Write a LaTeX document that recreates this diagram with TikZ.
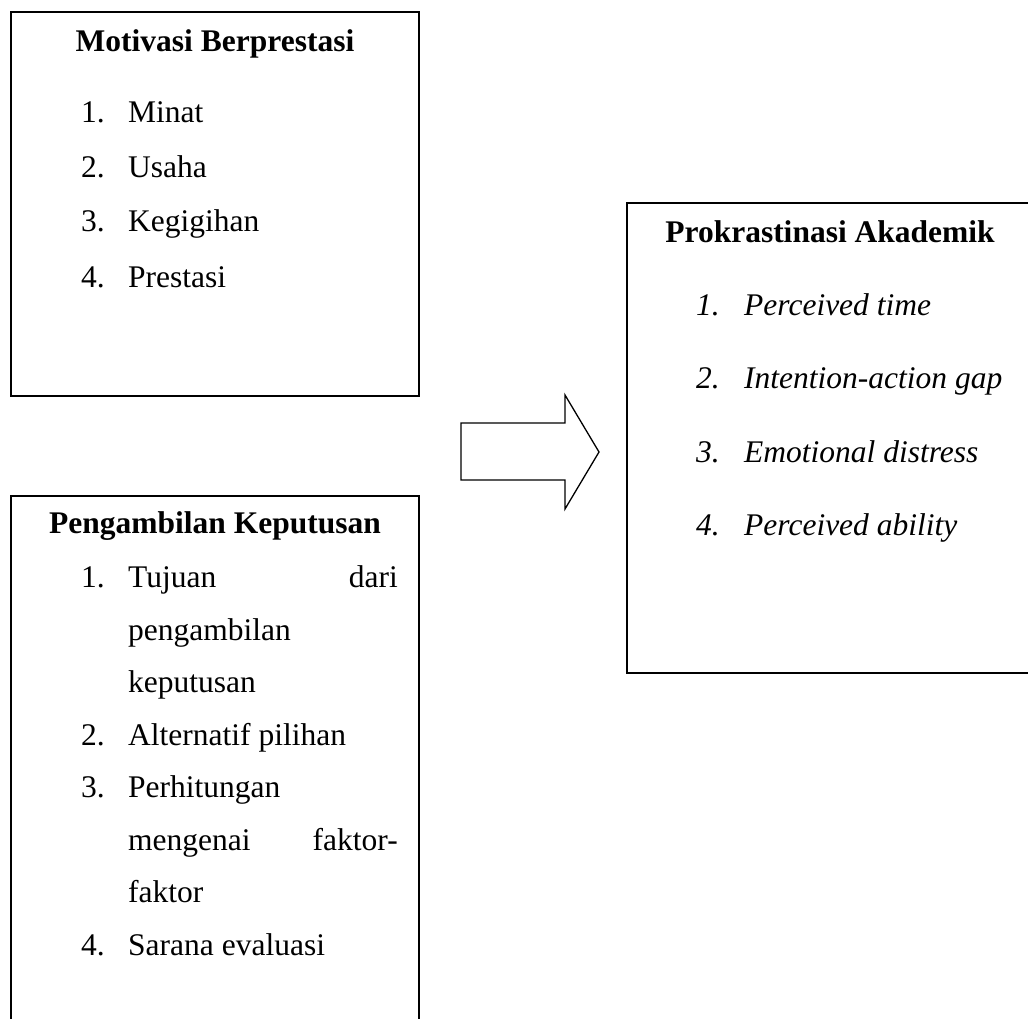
\documentclass[tikz,border=0pt]{standalone}
\usepackage{fontspec}
\setmainfont{Liberation Serif}
\tikzset{
  boxline/.style={line width=1.6pt, black},
  txt/.style={anchor=base west, inner sep=0pt, font=\fontsize{31.5}{38}\selectfont},
  ttl/.style={anchor=base, inner sep=0pt, font=\fontsize{31.5}{38}\selectfont\bfseries},
  itx/.style={anchor=base west, inner sep=0pt, font=\fontsize{31.5}{38}\selectfont\itshape},
  txr/.style={anchor=base east, inner sep=0pt, font=\fontsize{31.5}{38}\selectfont},
}
\begin{document}
\begin{tikzpicture}[x=1pt,y=-1pt]
\useasboundingbox (0,0) rectangle (1028,1019);
% box 1
\draw[boxline] (11,12) rectangle (419,396);
\node[ttl] (t1) at (215,52) {Motivasi Berprestasi};
\node[txt] (n11) at (81,123) {1.};
\node[txt] (i11) at (128,123) {Minat};
\node[txt] (n12) at (81,178) {2.};
\node[txt] (i12) at (128,178) {Usaha};
\node[txt] (n13) at (81,232) {3.};
\node[txt] (i13) at (128,232) {Kegigihan};
\node[txt] (n14) at (81,287) {4.};
\node[txt] (i14) at (128,287) {Prestasi};
% box 2 (bottom edge outside picture)
\draw[boxline] (11,1025) -- (11,496) -- (419,496) -- (419,1025);
\node[ttl] (t2) at (215,533) {Pengambilan Keputusan};
\node[txt] (n21) at (81,587) {1.};
\node[txt] (i21a) at (128,587) {Tujuan};
\node[txr] (i21b) at (398,587) {dari};
\node[txt] (i21c) at (128,640) {pengambilan};
\node[txt] (i21d) at (128,692) {keputusan};
\node[txt] (n22) at (81,745) {2.};
\node[txt] (i22) at (128,745) {Alternatif pilihan};
\node[txt] (n23) at (81,797) {3.};
\node[txt] (i23a) at (128,797) {Perhitungan};
\node[txt] (i23b) at (128,850) {mengenai};
\node[txr] (i23c) at (398,850) {faktor-};
\node[txt] (i23d) at (128,902) {faktor};
\node[txt] (n24) at (81,955) {4.};
\node[txt] (i24) at (128,955) {Sarana evaluasi};
% block arrow
\draw[line width=1.3pt, line join=miter] (461,423) -- (565,423) -- (565,395) -- (599,452) -- (565,509) -- (565,480) -- (461,480) -- cycle;
% box 3 (right edge outside picture)
\draw[boxline] (1035,203) -- (627,203) -- (627,673) -- (1035,673);
\node[ttl] (t3) at (830,243) {Prokrastinasi Akademik};
\node[itx] (n31) at (696,315) {1.};
\node[itx] (i31) at (744,315) {Perceived time};
\node[itx] (n32) at (696,388) {2.};
\node[itx] (i32) at (744,388) {Intention-action gap};
\node[itx] (n33) at (696,462) {3.};
\node[itx] (i33) at (744,462) {Emotional distress};
\node[itx] (n34) at (696,535) {4.};
\node[itx] (i34) at (744,535) {Perceived ability};
\end{tikzpicture}
\end{document}
